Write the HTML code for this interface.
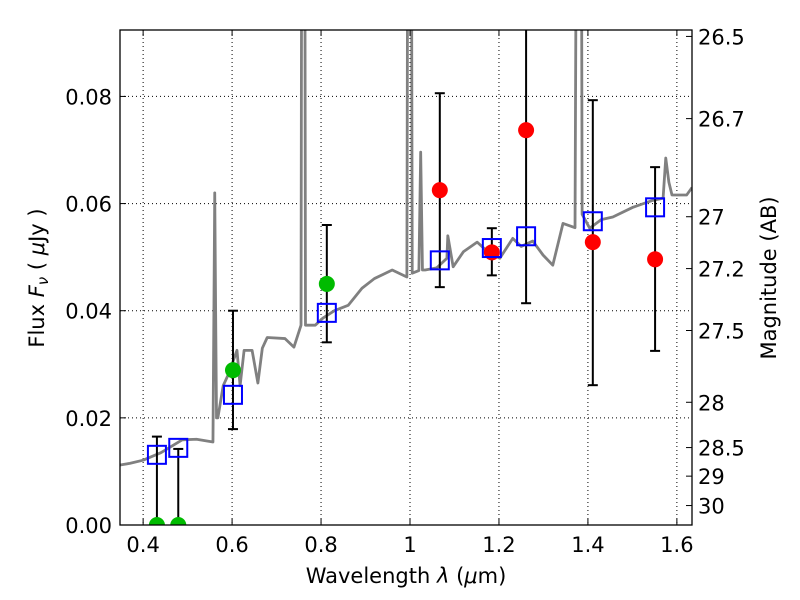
<!DOCTYPE html>
<html><head><meta charset="utf-8"><style>
body{margin:0;background:#fff}
svg{display:block;font-family:"DejaVu Sans","Liberation Sans",sans-serif}
</style></head><body>
<svg id="chart" width="800" height="600">
<g id="grid"></g>
<g id="plot"></g>
<g id="axes"></g>
<text x="406" y="583" font-size="21" text-anchor="middle">Wavelength  <tspan font-style="italic">λ</tspan> (<tspan font-style="italic">μ</tspan>m)</text>
<text transform="translate(44,278) rotate(-90)" font-size="21" text-anchor="middle">Flux  <tspan font-style="italic">F</tspan><tspan font-style="italic" font-size="15" dy="4">ν</tspan><tspan dy="-4">  ( </tspan><tspan font-style="italic">μ</tspan>Jy )</text>
<text transform="translate(776,278) rotate(-90)" font-size="21" text-anchor="middle">Magnitude (AB)</text>
</svg>
<script>
const specWave=[0.348,0.37,0.4,0.44,0.488,0.52,0.557,0.561,0.563,0.565,0.568,0.58,0.591,0.611,0.618,0.627,0.645,0.658,0.668,0.679,0.719,0.739,0.755,0.758,0.760,0.762,0.765,0.787,0.804,0.83,0.861,0.892,0.92,0.96,0.993,0.997,0.999,1.001,1.005,1.020,1.024,1.028,1.034,1.06,1.083,1.085,1.097,1.12,1.151,1.175,1.202,1.231,1.25,1.276,1.299,1.321,1.344,1.371,1.378,1.380,1.383,1.387,1.404,1.43,1.456,1.501,1.546,1.569,1.575,1.582,1.589,1.622,1.634];
const specFlux=[0.0112,0.0115,0.0121,0.0135,0.0159,0.0160,0.0155,0.062,0.040,0.020,0.0200,0.026,0.028,0.0326,0.026,0.0326,0.0326,0.0265,0.033,0.0350,0.0348,0.0332,0.0373,0.2,0.2,0.2,0.0373,0.0373,0.0386,0.040,0.0410,0.0442,0.046,0.0476,0.0463,0.2,0.2,0.2,0.0470,0.0475,0.0696,0.0476,0.0476,0.048,0.0498,0.054,0.0482,0.051,0.0528,0.051,0.0498,0.0535,0.052,0.0530,0.0504,0.0485,0.0563,0.0555,0.2,0.2,0.2,0.058,0.0554,0.057,0.0575,0.0593,0.0606,0.061,0.0685,0.064,0.0616,0.0616,0.0630];
const photWave=[0.431,0.479,0.602,0.813,1.067,1.184,1.261,1.411,1.551];
const modelFlux=[0.0131,0.0144,0.0243,0.0396,0.0494,0.0517,0.0539,0.0567,0.0593];
const obsFlux=[0,0,0.0289,0.045,0.0625,0.0509,0.0737,0.0528,0.0496];
const errLow=[0,0,0.0179,0.0341,0.0444,0.0466,0.0414,0.0261,0.0325];
const errHigh=[0.0165,0.0142,0.040,0.056,0.0806,0.0554,0.2,0.0793,0.0668];
const obsColor=['#00bb00','#00bb00','#00bb00','#00bb00','red','red','red','red','red'];
const xTicks=[0.4,0.6,0.8,1.0,1.2,1.4,1.6];
const xTickLabels=['0.4','0.6','0.8','1','1.2','1.4','1.6'];
const yTicks=[0,0.02,0.04,0.06,0.08];
const yTickLabels=['0.00','0.02','0.04','0.06','0.08'];
const magTicks=[26.5,26.7,27,27.2,27.5,28,28.5,29,30];
const magTickLabels=['26.5','26.7','27','27.2','27.5','28','28.5','29','30'];

const L=120,R=692,T=30,B=525,x0=0.348,x1=1.634,y0=0,y1=0.0924;
const sx=v=>L+(v-x0)/(x1-x0)*(R-L);
const sy=v=>B-(v-y0)/(y1-y0)*(B-T);
const magToFlux=m=>Math.pow(10,(23.9-m)/2.5);
const NS='http://www.w3.org/2000/svg';
function mk(tag,attrs,parent){const e=document.createElementNS(NS,tag);for(const k in attrs)e.setAttribute(k,attrs[k]);parent.appendChild(e);return e;}
const grid=document.getElementById('grid'),plot=document.getElementById('plot'),axes=document.getElementById('axes');
const cp=mk('clipPath',{id:'clip'},plot);
mk('rect',{x:L,y:T,width:R-L,height:B-T},cp);
xTicks.forEach((v,i)=>{
 const g=mk('line',{x1:sx(v),x2:sx(v),y1:T,y2:B,stroke:'#000','stroke-width':1,'stroke-dasharray':'1,3'},grid);
 
 
 mk('line',{x1:sx(v),x2:sx(v),y1:B,y2:B-6,stroke:'#000'},axes);
 mk('line',{x1:sx(v),x2:sx(v),y1:T,y2:T+6,stroke:'#000'},axes);
 const t=mk('text',{x:sx(v),y:B+27,'font-size':21,'text-anchor':'middle'},axes);t.textContent=xTickLabels[i];
 
 
});
yTicks.forEach((v,i)=>{
 const g=mk('line',{x1:L,x2:R,y1:sy(v),y2:sy(v),stroke:'#000','stroke-width':1,'stroke-dasharray':'1,3'},grid);
 
 
 mk('line',{x1:L,x2:L+6,y1:sy(v),y2:sy(v),stroke:'#000'},axes);
 const t=mk('text',{x:L-8,y:sy(v)+8,'font-size':21,'text-anchor':'end'},axes);t.textContent=yTickLabels[i];
 
 
});
magTicks.forEach((m,i)=>{
 const y=sy(magToFlux(m));
 mk('line',{x1:R,x2:R-6,y1:y,y2:y,stroke:'#000'},axes);
 const t=mk('text',{x:R+6,y:y+8,'font-size':21},axes);t.textContent=magTickLabels[i];
 
 
});
const cg=mk('g',{'clip-path':'url(#clip)'},plot);
const sp=mk('polyline',{points:specWave.map((w,i)=>sx(w)+','+sy(specFlux[i])).join(' '),fill:'none',stroke:'#808080','stroke-width':2.8,'stroke-linejoin':'round'},cg);


photWave.forEach((w,i)=>{
 const x=sx(w);
 const e=mk('line',{x1:x,x2:x,y1:sy(errLow[i]),y2:sy(Math.min(errHigh[i],y1+0.01)),stroke:'#000','stroke-width':2},cg);
 
 
 [errLow[i],errHigh[i]].forEach(v=>{if(v>0&&v<y1)mk('line',{x1:x-5,x2:x+5,y1:sy(v),y2:sy(v),stroke:'#000','stroke-width':2},cg);});
});
photWave.forEach((w,i)=>{
 const c=mk('circle',{cx:sx(w),cy:sy(obsFlux[i]),r:8,fill:obsColor[i]},cg);
 
 
});
photWave.forEach((w,i)=>{
 const s=mk('rect',{x:sx(w)-9,y:sy(modelFlux[i])-9,width:18,height:18,fill:'none',stroke:'#0000ff','stroke-width':2},cg);
 
 
});
const fr=mk('rect',{x:L,y:T,width:R-L,height:B-T,fill:'none',stroke:'#000','stroke-width':1.3},axes);


</script>
</body></html>
